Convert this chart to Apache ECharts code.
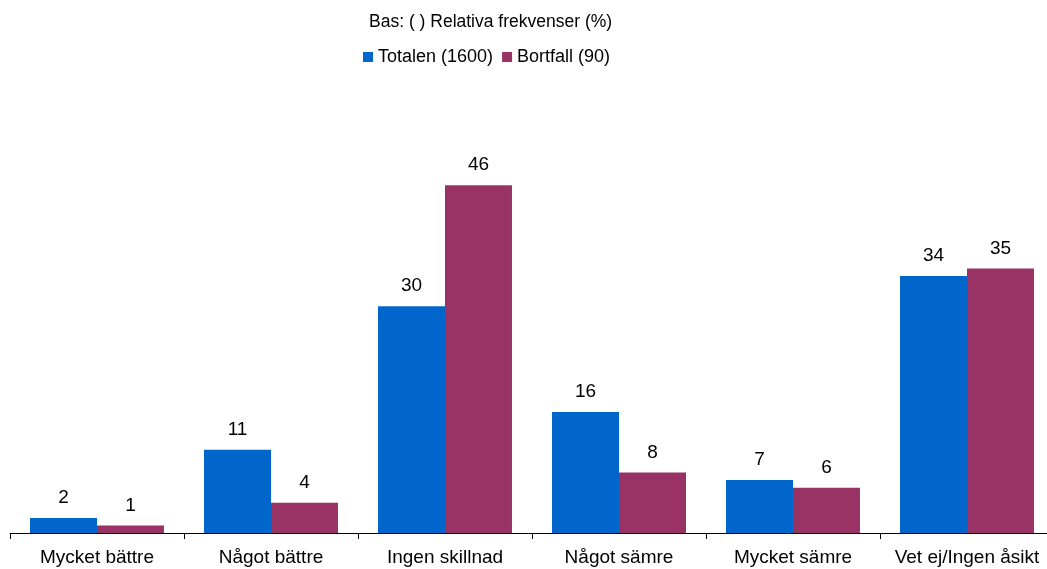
<!DOCTYPE html>
<html>
<head>
<meta charset="utf-8">
<script src="https://cdn.jsdelivr.net/npm/echarts@6/dist/echarts.min.js"></script>
<style>html,body{margin:0;padding:0;background:#fff;}#c{width:1047px;height:569px;}</style>
</head>
<body>
<div id="c"></div>
<script>
const categories = ['Mycket bättre', 'Något bättre', 'Ingen skillnad', 'Något sämre', 'Mycket sämre', 'Vet ej/Ingen åsikt'];
const totalen = [2, 11, 30, 16, 7, 34];
const bortfall = [1, 4, 46, 8, 6, 35];
const seriesNames = ['Totalen (1600)', 'Bortfall (90)'];
const titleText = 'Bas: ( ) Relativa frekvenser (%)';

const font = 'Arial, "Liberation Sans", sans-serif';
const chart = echarts.init(document.getElementById('c'), null, {renderer: 'canvas'});
const labelCfg = {show: true, position: 'top', distance: 10.5, color: '#000', fontSize: 19, fontFamily: font};
chart.setOption({
  animation: false,
  title: {text: titleText, left: 364, top: 8, textStyle: {fontSize: 17.5, fontWeight: 'normal', color: '#000', fontFamily: font}},
  legend: {top: 43, left: 358, itemWidth: 10, itemHeight: 10, itemGap: 9, icon: 'rect',
    textStyle: {fontSize: 18, color: '#000', fontFamily: font}, data: seriesNames},
  grid: {left: 10, right: -7, top: 155, bottom: 36, containLabel: false, outerBoundsMode: 'none'},
  xAxis: {type: 'category', data: categories,
    axisLine: {lineStyle: {color: '#000', width: 1}},
    axisTick: {show: true, length: 6, lineStyle: {color: '#000'}},
    axisLabel: {color: '#000', fontSize: 19, fontFamily: font, margin: 15, interval: 0}},
  yAxis: {type: 'value', min: 0, max: 50, show: false, splitLine: {show: false}},
  series: [
    {name: seriesNames[0], type: 'bar', data: totalen, barGap: '0%', barCategoryGap: '23%', itemStyle: {color: '#0066CC'}, label: labelCfg},
    {name: seriesNames[1], type: 'bar', data: bortfall, itemStyle: {color: '#993366'}, label: labelCfg}
  ]
});
</script>
</body>
</html>
